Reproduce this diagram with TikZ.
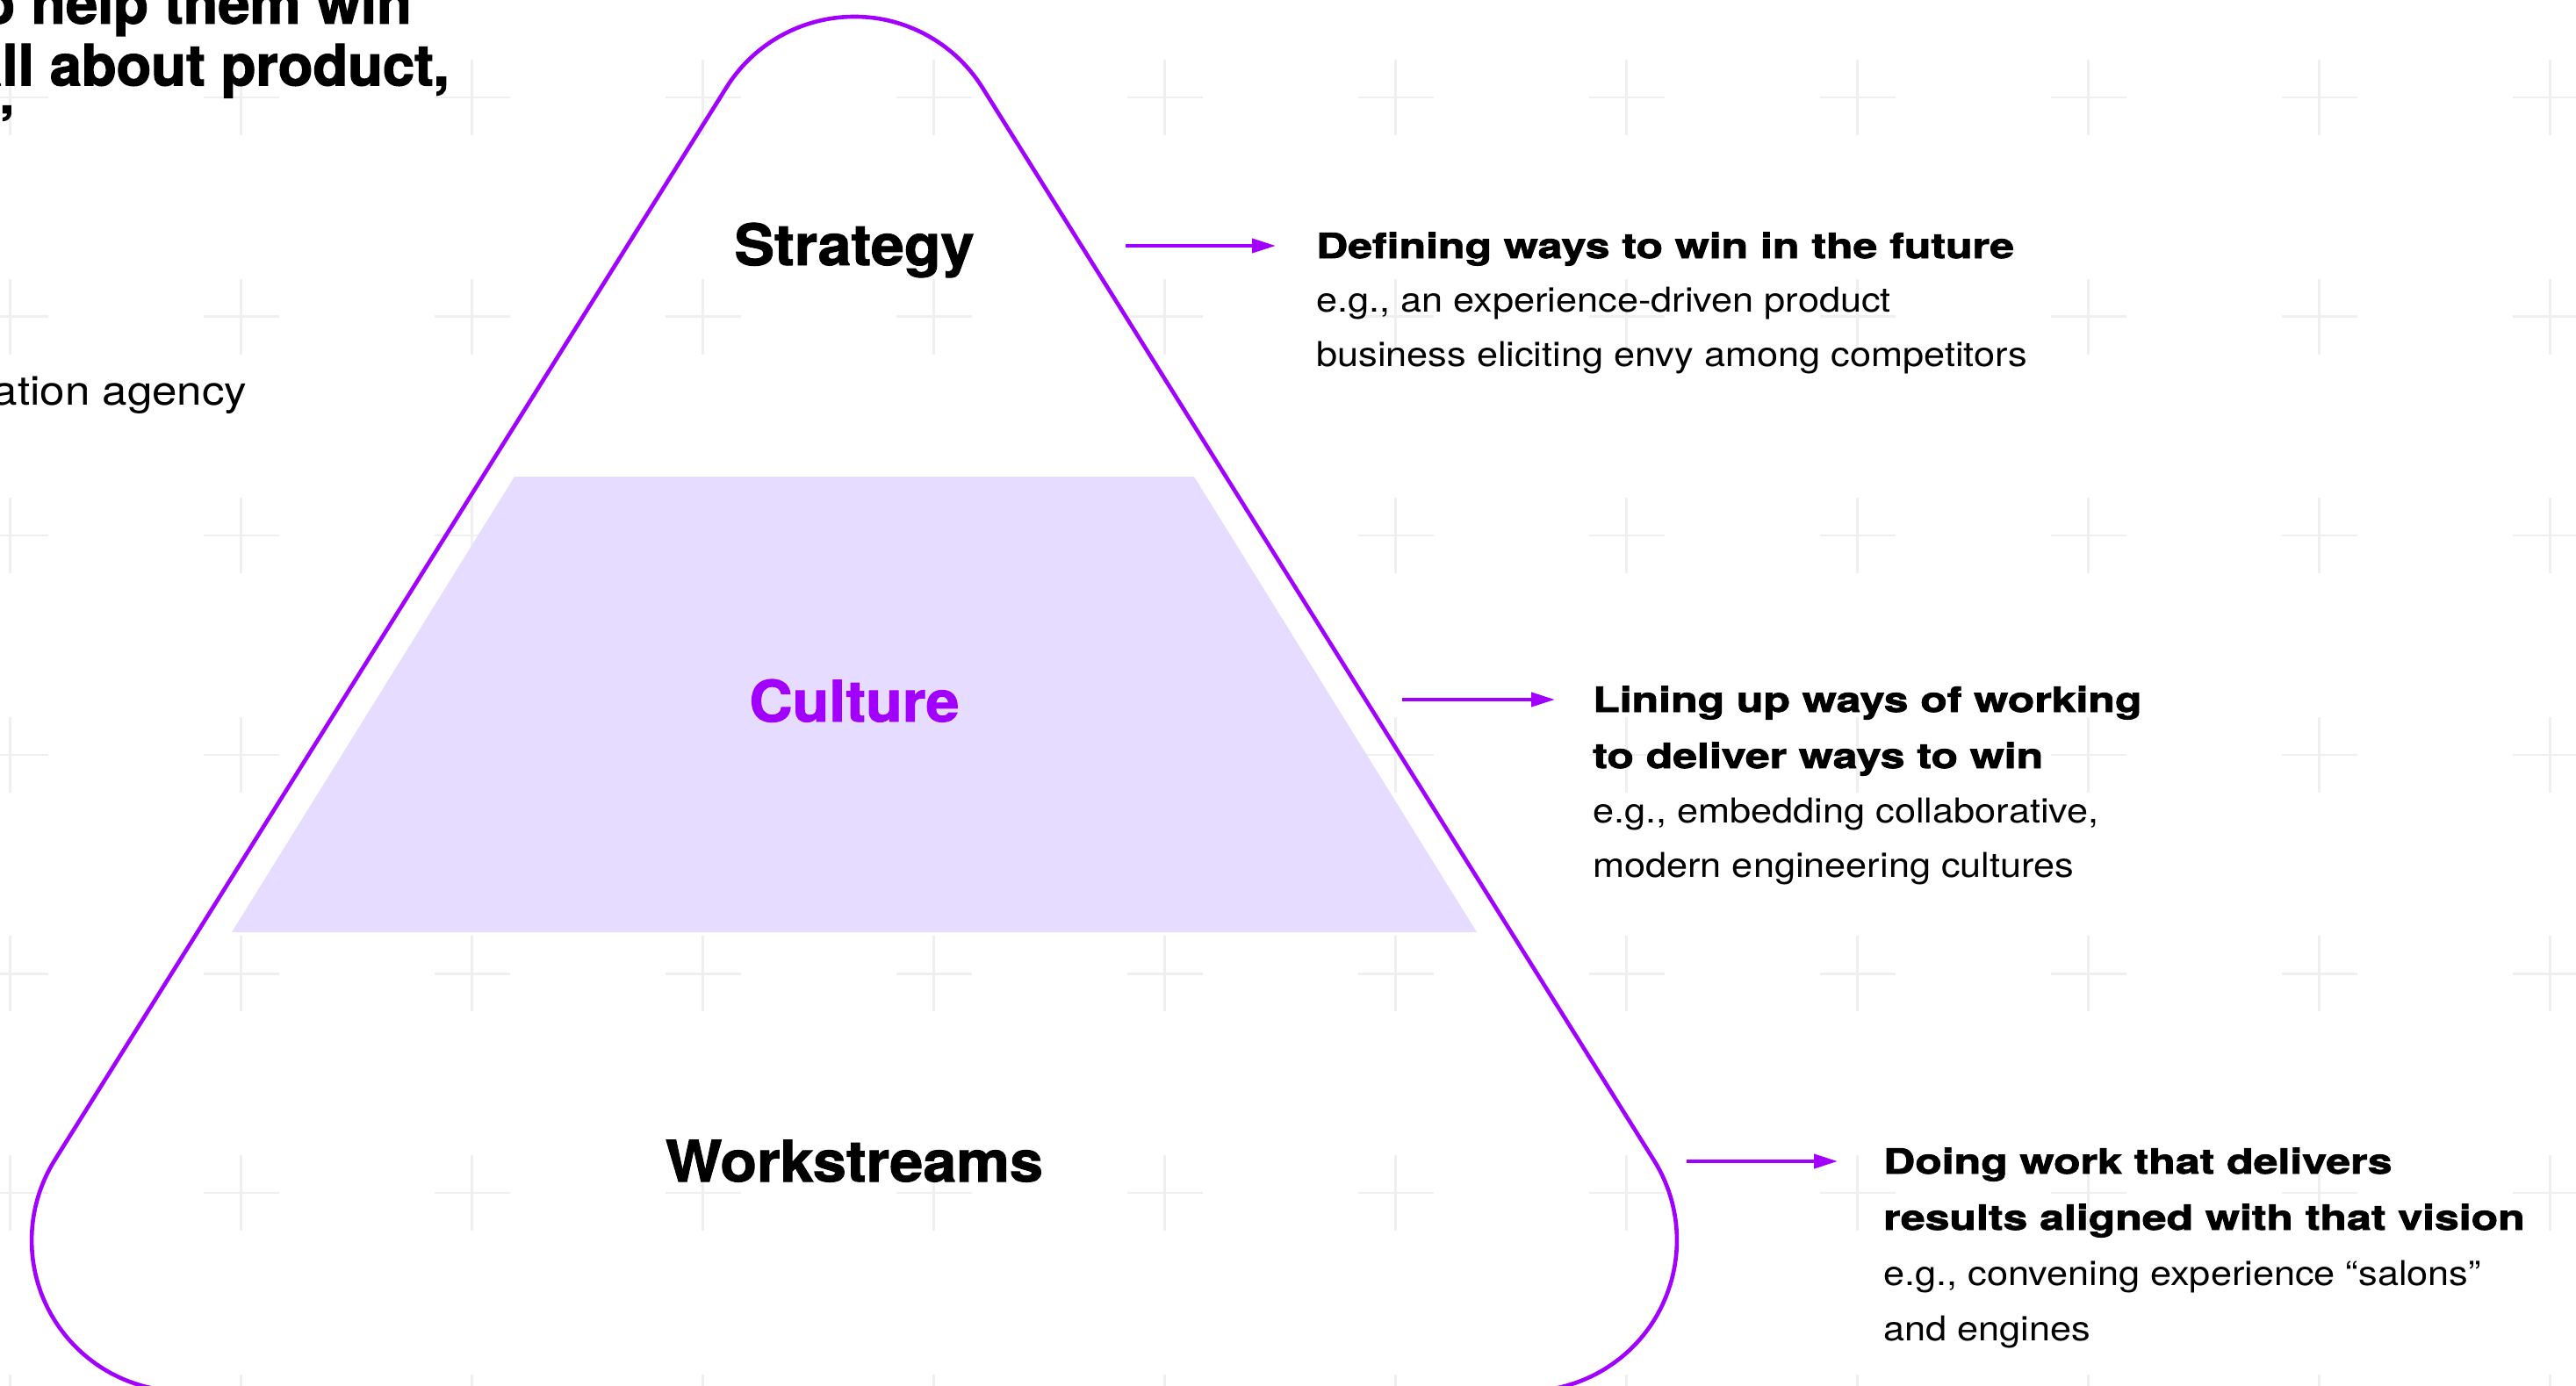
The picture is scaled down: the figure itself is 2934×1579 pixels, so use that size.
\documentclass[tikz,border=0pt]{standalone}
\usepackage{fontspec}
\setmainfont{TeX Gyre Heros}
\newfontfamily\headfont{TeX Gyre Heros}[FakeStretch=1.265, FakeBold=2.2]
\newfontfamily\bodyfont{TeX Gyre Heros}[FakeStretch=1.11]
\newfontfamily\labelfont{TeX Gyre Heros}[FakeStretch=1.05, FakeBold=1.5]
\newfontfamily\introfont{TeX Gyre Heros}[FakeBold=2.0]
\usetikzlibrary{arrows.meta}
\definecolor{brandpurple}{HTML}{A100FF}
\definecolor{culturefill}{HTML}{E5DCFF}
\definecolor{gridgrey}{HTML}{EFEFEF}
\tikzset{
  gridcross/.style={draw=gridgrey, line width=2.5pt},
  outline/.style={draw=brandpurple, line width=4.6pt, line join=round},
  band/.style={fill=culturefill},
  biglabel/.style={inner sep=0pt, anchor=base, font=\labelfont\bfseries\fontsize{65}{70}\selectfont},
  headline/.style={inner sep=0pt, anchor=base west, font=\headfont\bfseries\fontsize{39.5}{48}\selectfont},
  bodyline/.style={inner sep=0pt, anchor=base west, font=\bodyfont\fontsize{39}{48}\selectfont},
  introhead/.style={inner sep=0pt, anchor=base east, font=\introfont\bfseries\fontsize{65}{70}\selectfont},
  introbody/.style={inner sep=0pt, anchor=base east, font=\bodyfont\fontsize{46}{52}\selectfont},
  pointer/.style={draw=brandpurple, line width=4pt, -{Triangle[length=27pt,width=16pt]}},
}
\begin{document}
\begin{tikzpicture}[x=1pt,y=-1pt]
\path[use as bounding box] (0,0) rectangle (2934,1579);
\clip (0,0) rectangle (2934,1579);
\fill[white] (0,0) rectangle (2934,1579);
% background grid of crosses
\foreach \i in {0,...,11} {
  \foreach \j in {0,...,6} {
    \path[gridcross] ({11.5+263*\i-43},{111+249.6*\j}) -- ++(86,0)
                     ({11.5+263*\i},{111+249.6*\j-43}) -- ++(0,86);
  }
}
% culture band
\fill[band] (586,543) -- (1360,543) -- (1682,1062) -- (264,1062) -- cycle;
% rounded triangle outline
\draw[outline] (62.3,1321.7) -- (827.4,99.6)
  arc[start angle=212.1, end angle=327.9, radius=172]
  -- (1883.7,1321.7)
  arc[start angle=327.95, end angle=450, radius=172]
  -- (208.1,1585)
  arc[start angle=90, end angle=212.05, radius=172] -- cycle;
% labels in the triangle
\node[biglabel] (strategy) at (973,302) {Strategy};
\node[biglabel, text=brandpurple] (culture) at (973,822) {Culture};
\node[biglabel] (workstreams) at (973,1346) {Workstreams};
% intro text (cut at the left edge)
\node[introhead] (introa) at (469,26.7) {o help them win};
\node[introhead] (introb) at (512,97.3) {all about product,};
\node[introhead] (introc) at (17.5,168) {’};
\node[introbody] (introd) at (281.5,461.7) {ation agency};
% block 1
\node[headline] (h1) at (1499,294) {Defining ways to win in the future};
\node[bodyline] (b1a) at (1499,355) {e.g., an experience-driven product};
\node[bodyline] (b1b) at (1499,417) {business eliciting envy among competitors};
% block 2
\node[headline] (h2a) at (1814,811) {Lining up ways of working};
\node[headline] (h2b) at (1814,875) {to deliver ways to win};
\node[bodyline] (b2a) at (1814,937) {e.g., embedding collaborative,};
\node[bodyline] (b2b) at (1814,999) {modern engineering cultures};
% block 3
\node[headline] (h3a) at (2145,1337) {Doing work that delivers};
\node[headline] (h3b) at (2145,1401) {results aligned with that vision};
\node[bodyline] (b3a) at (2145,1464) {e.g., convening experience “salons”};
\node[bodyline] (b3b) at (2145,1527) {and engines};
% arrows
\coordinate (p1s) at (1282,280);
\coordinate (p1e) at (1453,280);
\coordinate (p2s) at (1597,797);
\coordinate (p2e) at (1771,797);
\coordinate (p3s) at (1921,1323);
\coordinate (p3e) at (2093,1323);
\draw[pointer] (p1s) -- (p1e);
\draw[pointer] (p2s) -- (p2e);
\draw[pointer] (p3s) -- (p3e);
\end{tikzpicture}
\end{document}
